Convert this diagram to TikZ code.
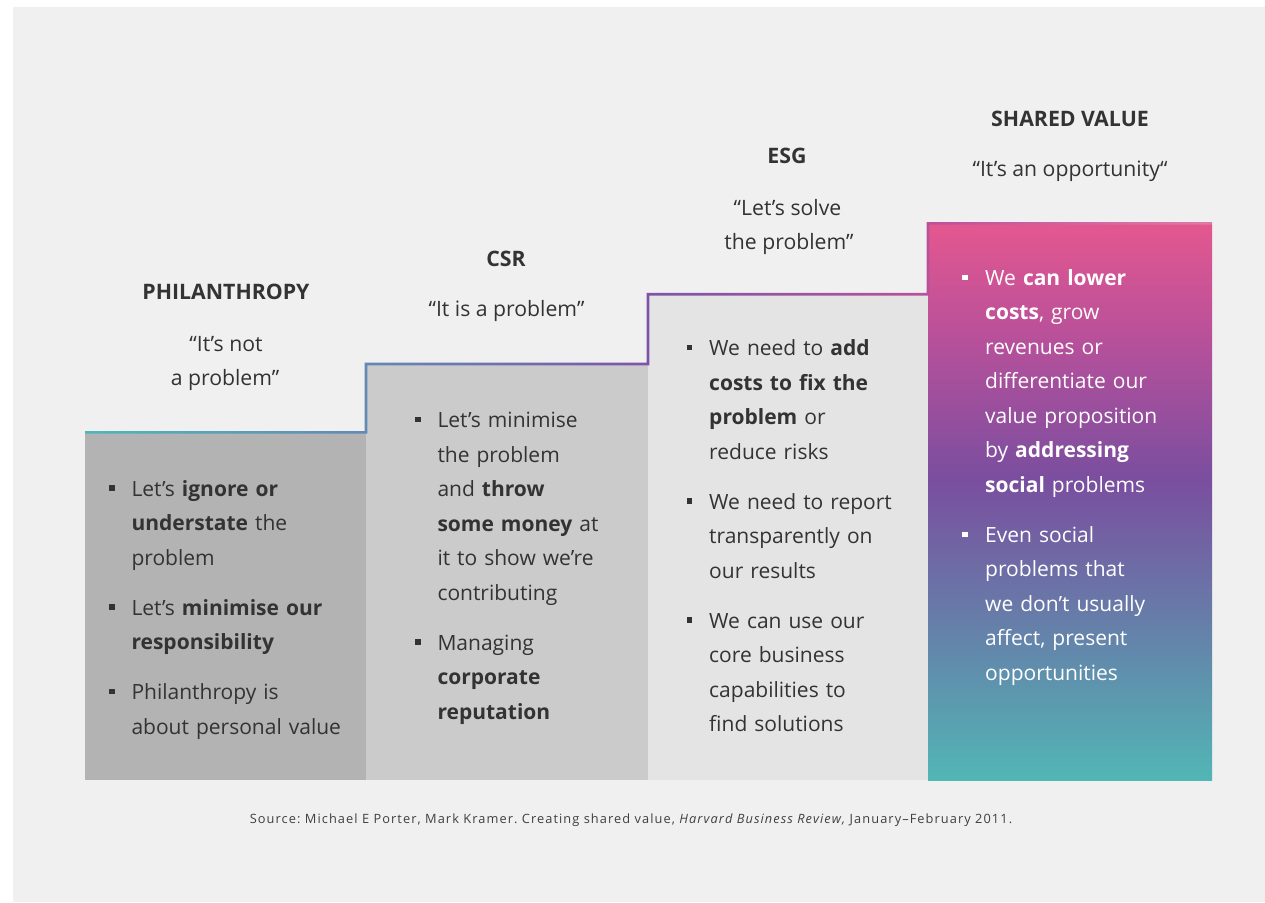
\documentclass[tikz,border=0pt]{standalone}
\usepackage{fontspec}
\setmainfont{Open Sans}
\newfontfamily\sourcefont[LetterSpace=8.4]{Open Sans}
\frenchspacing
\definecolor{pagebg}{HTML}{F0F0F0}
\definecolor{ink}{HTML}{333333}
\definecolor{srcink}{HTML}{3F3F3F}
\definecolor{colA}{HTML}{B3B3B3}
\definecolor{colB}{HTML}{CBCBCB}
\definecolor{colC}{HTML}{E4E4E4}
% step line colours, left to right
\definecolor{lnA}{HTML}{4DB8B8}
\definecolor{lnB}{HTML}{6389B5}
\definecolor{lnC}{HTML}{7E54A9}
\definecolor{lnD}{HTML}{B9529B}
\definecolor{lnE}{HTML}{E07AA8}
% shared value column, bottom to top
\definecolor{svA}{HTML}{52B6B5}
\definecolor{svB}{HTML}{6288AB}
\definecolor{svC}{HTML}{7A4E9F}
\definecolor{svD}{HTML}{B5509B}
\definecolor{svE}{HTML}{E4578F}
\pgfdeclarehorizontalshading{steplineshade}{100bp}{color(0bp)=(lnA); color(25bp)=(lnA); color(37.5bp)=(lnB); color(50bp)=(lnC); color(62.4bp)=(lnD); color(75bp)=(lnE); color(100bp)=(lnE)}
\pgfdeclareverticalshading{svshade}{100bp}{color(0bp)=(svA); color(25bp)=(svA); color(36.6bp)=(svB); color(52bp)=(svC); color(64bp)=(svD); color(75bp)=(svE); color(100bp)=(svE)}
\tikzset{
  body/.style={anchor=base west, inner sep=0pt, text width=300pt, align=left,
    font=\fontsize{21}{34.5}\selectfont, text=ink},
  bodywhite/.style={body, text=white},
  bul/.style={inner sep=0pt, minimum size=5.8pt, fill=ink, draw=none},
  bulwhite/.style={bul, fill=white},
  heading/.style={anchor=base, inner sep=0pt, font=\fontsize{21.3}{24}\selectfont\bfseries, text=ink},
  quoteline/.style={anchor=base, inner sep=0pt, font=\fontsize{21.2}{24}\selectfont, text=ink},
}
\begin{document}
\begin{tikzpicture}[x=1pt,y=-1pt]
\useasboundingbox (0,0) rectangle (1265,902);
\fill[white] (0,0) rectangle (1265,902);
\fill[pagebg] (13,7) rectangle (1265,902);

% columns
\fill[colA] (85,432.3) rectangle (366,780);
\fill[colB] (366,364) rectangle (648,780);
\fill[colC] (648,294) rectangle (928,780);
\shade[shading=svshade] (928,223) rectangle (1212,780);

% rising step line
\begin{scope}
  \clip (85,431) rectangle (367.3,433.6)
        (364.7,362.7) rectangle (367.3,433.6)
        (364.7,362.7) rectangle (649.3,365.3)
        (646.7,292.9) rectangle (649.3,365.3)
        (646.7,292.9) rectangle (929.3,295.5)
        (926.7,222) rectangle (929.3,295.5)
        (926.7,222) rectangle (1212,224.6);
  \shade[shading=steplineshade] (85,220) rectangle (1212,436);
\end{scope}

% headings and quotes
\node[heading] (h1) at (226,299.5) {PHILANTHROPY};
\node[quoteline] (q1a) at (226,351) {“It’s not};
\node[quoteline] (q1b) at (225,385) {a problem”};

\node[heading] (h2) at (506,266.5) {CSR};
\node[quoteline] (q2a) at (506.5,316.5) {“It is a problem”};

\node[heading] (h3) at (787,163.5) {ESG};
\node[quoteline] (q3a) at (787.5,215) {“Let’s solve};
\node[quoteline] (q3b) at (789,249.3) {the problem”};

\node[heading] (h4) at (1070,126) {SHARED VALUE};
\node[quoteline] (q4a) at (1070,176) {“It’s an opportunity“};

% philanthropy bullets
\node[bul] (b1a) at (112.2,488) {};
\node[body] (p1a) at (131.3,496) {Let’s \textbf{ignore or}\\\textbf{understate} the\\problem};
\node[bul] (b1b) at (112.2,607) {};
\node[body] (p1b) at (131.3,615) {Let’s \textbf{minimise our}\\\textbf{responsibility}};
\node[bul] (b1c) at (112.2,691.5) {};
\node[body] (p1c) at (131.3,699.5) {Philanthropy is\\about personal value};

% csr bullets
\node[bul] (b2a) at (418,419.5) {};
\node[body] (p2a) at (437.3,427.5) {Let’s minimise\\the problem\\and \textbf{throw}\\\textbf{some money} at\\it to show we’re\\contributing};
\node[bul] (b2b) at (418,642) {};
\node[body] (p2b) at (437.3,650) {Managing\\\textbf{corporate}\\\textbf{reputation}};

% esg bullets
\node[bul] (b3a) at (689.5,347.5) {};
\node[body] (p3a) at (709,355.5) {We need to \textbf{add}\\\textbf{costs to fix the}\\\textbf{problem} or\\reduce risks};
\node[bul] (b3b) at (689.5,501) {};
\node[body] (p3b) at (709,509) {We need to report\\transparently on\\our results};
\node[bul] (b3c) at (689.5,620) {};
\node[body] (p3c) at (709,628) {We can use our\\core business\\capabilities to\\find solutions};

% shared value bullets
\node[bulwhite] (b4a) at (965,277.5) {};
\node[bodywhite] (p4a) at (985,285) {We \textbf{can lower}\\\textbf{costs}, grow\\revenues or\\differentiate our\\value proposition\\by \textbf{addressing}\\\textbf{social} problems};
\node[bulwhite] (b4b) at (965,534.5) {};
\node[bodywhite] (p4b) at (985,542) {Even social\\problems that\\we don’t usually\\affect, present\\opportunities};

% source line
\node[anchor=base, inner sep=0pt, font=\sourcefont\fontsize{12.8}{16}\selectfont, text=srcink] (src) at (631,823)
  {Source: Michael E Porter, Mark Kramer. Creating shared value, {\itshape Harvard Business Review,} January–February 2011.};
\end{tikzpicture}
\end{document}
